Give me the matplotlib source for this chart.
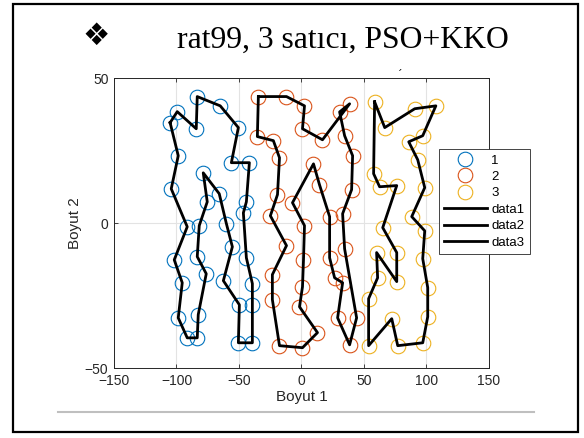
import numpy as np
import matplotlib.pyplot as plt
from matplotlib.patches import Rectangle
from matplotlib.lines import Line2D

# tour of each salesman (points in visiting order)
x1 = [-105.1, -99.4, -84.2, -83.4, -65.0, -50.5, -56.1, -41.7, -44.1, -46.5, -44.1, -39.3,
      -39.3, -39.3, -50.5, -49.7, -62.5, -55.3, -60.1, -65.8, -78.6, -75.4, -81.8, -83.4,
      -76.2, -82.6, -83.4, -91.4, -98.6, -95.4, -101.8, -91.4, -104.2, -98.6]
y1 = [34.6, 38.4, 32.5, 43.6, 40.4, 32.9, 20.8, 20.8, 7.3, 3.5, -12.0, -20.9,
      -28.2, -41.3, -41.3, -28.2, -19.9, -8.2, -0.2, 10.1, 17.3, 7.3, -0.9, -11.6,
      -17.5, -31.6, -39.6, -39.6, -32.7, -20.6, -12.7, -1.3, 11.8, 23.2]

x2 = [-34.5, -12.0, 2.4, 0.8, 16.8, 38.5, 30.5, 34.5, 40.9, 40.1, 32.9, 34.5, 44.1,
      38.5, 28.9, 32.9, 26.5, 22.5, 22.5, 14.4, 9.6, -7.2, 2.4, 1.6, 0.8, -1.6, 12.8,
      0.8, -17.6, -23.3, -23.3, -12.0, -24.9, -19.2, -17.6, -22.5, -35.3]
y2 = [43.6, 43.6, 40.4, 32.5, 28.7, 41.1, 38.3, 30.1, 23.2, 11.5, 3.2, -8.9, -32.7,
      -42.0, -32.7, -20.6, -18.9, -12.0, 2.2, 13.2, 20.4, 7.0, -0.9, -12.7, -22.0, -28.9, -37.8,
      -43.0, -42.3, -26.4, -17.8, -7.8, 2.5, 9.8, 22.5, 28.4, 29.8]

x3 = [58.5, 66.6, 90.6, 107.5, 97.0, 85.8, 93.0, 98.6, 88.2, 98.6, 97.0, 101.0, 101.0,
      97.0, 77.0, 72.2, 53.7, 53.7, 60.9, 60.1, 76.2, 76.2, 65.0, 76.2, 62.5, 57.7]
y3 = [41.8, 32.9, 39.4, 40.4, 30.1, 28.0, 21.8, 12.2, 2.2, -2.7, -12.3, -22.3, -32.3,
      -41.3, -42.3, -33.0, -42.3, -26.1, -18.9, -10.2, -20.2, -10.2, -1.6, 12.9, 12.5, 17.0]

groups = ['1', '2', '3']
colors = ['#0072BD', '#D95319', '#EDB120']
xticks = [-150, -100, -50, 0, 50, 100, 150]
yticks = [-50, 0, 50]

tours = [(x1, y1), (x2, y2), (x3, y3)]

fig = plt.figure(figsize=(5.84, 4.38), dpi=100)
ax = fig.add_axes([0.1952, 0.1598, 0.6421, 0.6621])

for (xs, ys), c, g in zip(tours, colors, groups):
    ax.plot(xs, ys, 'o', mfc='none', mec=c, ms=10.5, mew=0.8, label=g)
for i, (xs, ys) in enumerate(tours):
    xs = np.append(xs, xs[0])
    ys = np.append(ys, ys[0])
    ax.plot(xs, ys, color='black', lw=2, label='data%d' % (i + 1))

ax.set_xlim(-150, 150)
ax.set_ylim(-50, 50)
ax.set_xticks(xticks)
ax.set_yticks(yticks)
ax.grid(True, color='#e3e3e3', lw=0.8)
ax.set_axisbelow(True)
ax.tick_params(direction='in', top=True, right=True, labelsize=10, colors='#262626',
               length=3, width=0.6, pad=4)
for lab in ax.get_xticklabels() + ax.get_yticklabels():
    lab.set_fontfamily('Liberation Sans')
for s in ax.spines.values():
    s.set_color('#262626')
    s.set_linewidth(0.7)
ax.set_xlabel('Boyut 1', fontsize=11, family='Liberation Sans', color='#262626', labelpad=2)
ax.set_ylabel('Boyut 2', fontsize=11, family='Liberation Sans', color='#262626', labelpad=2)

leg = ax.legend(loc='upper left', bbox_to_anchor=(439 / 584, 1 - 149 / 438),
                bbox_transform=fig.transFigure, borderaxespad=0, frameon=True, fancybox=False,
                edgecolor='#262626', framealpha=1, handlelength=3.2, handletextpad=0.35,
                labelspacing=0.32, borderpad=0.4, prop={'family': 'Liberation Sans', 'size': 9.5})
leg.get_frame().set_linewidth(0.6)

# slide decorations
fig.patches.append(Rectangle((0.0217, 0.0144), 0.968, 0.9765, transform=fig.transFigure,
                             fill=False, edgecolor='black', lw=1.6))
fig.lines.append(Line2D([58 / 584, 534 / 584], [1 - 412 / 438] * 2, transform=fig.transFigure,
                        color='#bfbfbf', lw=1.5))
fig.text(96 / 584, 1 - 36.5 / 438, '\u2756', fontsize=22, family='DejaVu Sans',
         ha='center', va='center')
fig.text(177 / 584, 1 - 48.3 / 438, 'rat99, 3 sat\u0131c\u0131, PSO+KKO', fontsize=22.8,
         family='Liberation Serif', ha='left', va='baseline')
fig.text(400 / 584, 1 - 75 / 438, '\u02ca', fontsize=8, ha='center', va='center')

plt.savefig('out.png', dpi=100)
